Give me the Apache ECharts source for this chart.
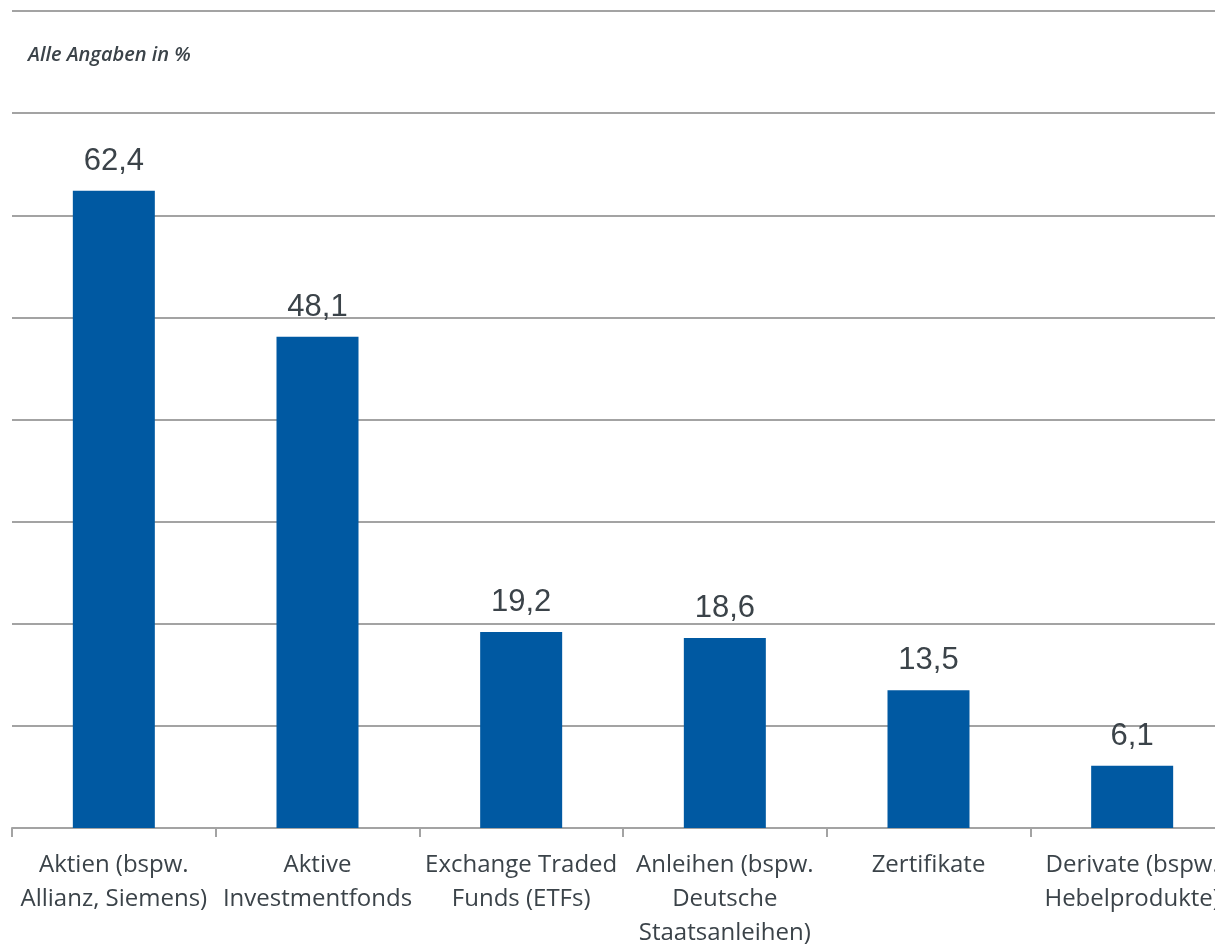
<!DOCTYPE html>
<html>
<head>
<meta charset="utf-8">
<script src="https://cdn.jsdelivr.net/npm/echarts@6/dist/echarts.min.js"></script>
<style>
  html, body { margin: 0; padding: 0; background: #fff; overflow: hidden; }
  #chart { width: 1240px; height: 945px; }
</style>
</head>
<body>
<div id="chart"></div>
<script>
// Anlageprodukte – Anteile in Prozent
const categories = [
  'Aktien (bspw.\nAllianz, Siemens)',
  'Aktive\nInvestmentfonds',
  'Exchange Traded\nFunds (ETFs)',
  'Anleihen (bspw.\nDeutsche\nStaatsanleihen)',
  'Zertifikate',
  'Derivate (bspw.\nHebelprodukte)'
];
const values = [62.4, 48.1, 19.2, 18.6, 13.5, 6.1];
const subtitle = 'Alle Angaben in %';

const textColor = '#3b4349';
const gridColor = '#a3a3a3';
const barColor = '#0059a2';

const chart = echarts.init(document.getElementById('chart'), null, { renderer: 'canvas' });
chart.setOption({
  animation: false,
  backgroundColor: '#ffffff',
  title: {
    text: subtitle,
    left: 23,
    top: 40,
    textStyle: {
      fontFamily: 'Open Sans, Noto Sans, sans-serif',
      fontStyle: 'italic',
      fontWeight: 600,
      fontSize: 20,
      color: textColor
    }
  },
  grid: { left: 12, top: 11, right: 6, bottom: 117, containLabel: false, outerBoundsMode: 'none' },
  xAxis: {
    type: 'category',
    data: categories,
    axisLine: { show: true, lineStyle: { color: gridColor, width: 2 } },
    axisTick: { show: true, length: 9, lineStyle: { color: gridColor, width: 2 } },
    axisLabel: {
      interval: 0,
      margin: 20,
      fontFamily: 'Liberation Sans Narrow, Open Sans, Noto Sans, sans-serif',
      fontSize: 24,
      lineHeight: 34,
      color: textColor
    }
  },
  yAxis: {
    type: 'value',
    min: 0,
    max: 80,
    interval: 10,
    axisLine: { show: false },
    axisTick: { show: false },
    axisLabel: { show: false },
    splitLine: { show: true, lineStyle: { color: gridColor, width: 2 } }
  },
  series: [{
    type: 'bar',
    data: values,
    barWidth: 82,
    itemStyle: { color: barColor },
    label: {
      show: true,
      position: 'top',
      distance: 14,
      fontFamily: 'Liberation Sans, Arial, sans-serif',
      fontSize: 31,
      color: textColor,
      formatter: p => p.value.toFixed(1).replace('.', ',')
    }
  }]
});
</script>
</body>
</html>
